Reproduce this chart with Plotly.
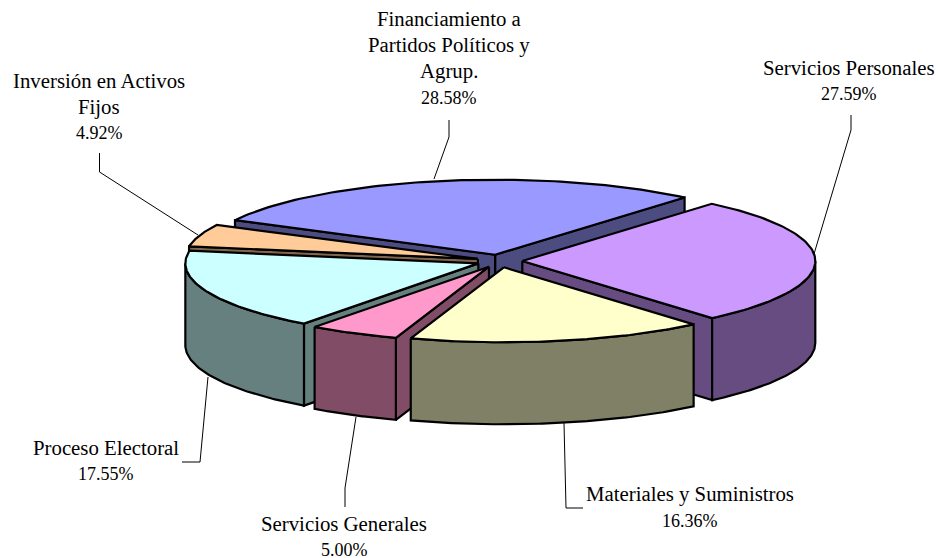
import numpy as np
import plotly.graph_objects as go

# ---- data -----
categories = ["Servicios Personales", "Materiales y Suministros", "Servicios Generales",
              "Proceso Electoral", "Inversión en Activos Fijos",
              "Financiamiento a Partidos Políticos y Agrup."]
values = [27.59, 16.36, 5.00, 17.55, 4.92, 28.58]
top_colors = ["#CC99FF", "#FFFFCC", "#FF99CC", "#CCFFFF", "#FFCC99", "#9999FF"]
wall_colors = ["#664C80", "#808066", "#804C66", "#668080", "#80664C", "#4C4C80"]
label_lines = [["Servicios Personales"], ["Materiales y Suministros"], ["Servicios Generales"],
               ["Proceso Electoral"], ["Inversión en Activos", "Fijos"],
               ["Financiamiento a", "Partidos Políticos y", "Agrup."]]
label_x = [849, 690, 344, 106, 99, 449]
label_top_y = [67, 494, 523, 447, 80, 18]
leader_x = [[851, 851, 814], [583, 566, 564], [345, 345, 356], [182, 200, 208], [99.5, 99.5, 198], [449, 449, 434]]
leader_y = [[115, 130, 254], [508, 508, 423], [507, 488, 417], [462, 462, 377], [153, 172, 235], [120, 137, 179]]

# ---- projection -----
CX, CY = 499.5, 261
RX, RY = 293, 75
EX, EY = 22.8, 6.4
DEPTH = 82
START = 49.7
LINE_STEP = 26.6
draw_order = [5, 4, 0, 3, 2, 1]

angles = []
a = START
for v in values:
    b = a - v * 3.6
    angles.append((b, a))
    a = b

fig = go.Figure()


def poly(xs, ys, color, width=2.2):
    fig.add_trace(go.Scatter(x=list(xs) + [xs[0]], y=list(ys) + [ys[0]], mode="lines", fill="toself",
                             fillcolor=color, line=dict(color="black", width=width),
                             hoverinfo="skip", showlegend=False))


for i in draw_order:
    lo, hi = angles[i]
    mid = np.radians((lo + hi) / 2)
    ax = CX + EX * np.cos(mid)
    ay = CY - EY * np.sin(mid)
    mx, my = RX * np.cos(mid), -RY * np.sin(mid)
    t = np.radians(np.linspace(lo, hi, 80))
    px = ax + RX * np.cos(t)
    py = ay - RY * np.sin(t)
    # cut faces: drawn only when the top face lies above the edge
    for th in (lo, hi):
        r = np.radians(th)
        dx, dy = RX * np.cos(r), -RY * np.sin(r)
        if (dx * my - dy * mx) * dx < 0:
            ex, ey = ax + dx, ay + dy
            poly([ax, ex, ex, ax], [ay, ey, ey + DEPTH, ay + DEPTH], wall_colors[i])
    # outer rim: only the front half can be seen
    for shift in (0, -360):
        vlo, vhi = max(lo + shift, -180), min(hi + shift, 0)
        if vlo < vhi:
            rim = np.radians(np.linspace(vlo, vhi, 80))
            rx = ax + RX * np.cos(rim)
            ry = ay - RY * np.sin(rim)
            poly(list(rx) + list(rx[::-1]), list(ry) + list(ry[::-1] + DEPTH), wall_colors[i])
    poly([ax] + list(px), [ay] + list(py), top_colors[i])

for lx, ly in zip(leader_x, leader_y):
    fig.add_trace(go.Scatter(x=lx, y=ly, mode="lines", line=dict(color="black", width=1),
                             hoverinfo="skip", showlegend=False))

for lines, v, x, y in zip(label_lines, values, label_x, label_top_y):
    for k, s in enumerate(lines + [f"{v:.2f}%"]):
        size = 20.8 if k < len(lines) else 18
        fig.add_annotation(x=x, y=y + k * LINE_STEP, text=s, showarrow=False, xanchor="center", yanchor="middle",
                           font=dict(family="Liberation Serif", size=size, color="black"))

fig.update_layout(width=938, height=558, margin=dict(l=0, r=0, t=0, b=0), showlegend=False,
                  paper_bgcolor="white", plot_bgcolor="white",
                  xaxis=dict(range=[0, 938], visible=False, fixedrange=True),
                  yaxis=dict(range=[558, 0], visible=False, fixedrange=True))
fig.write_html("out.html", config={"displayModeBar": False}, post_script="document.body.style.margin='0';")
